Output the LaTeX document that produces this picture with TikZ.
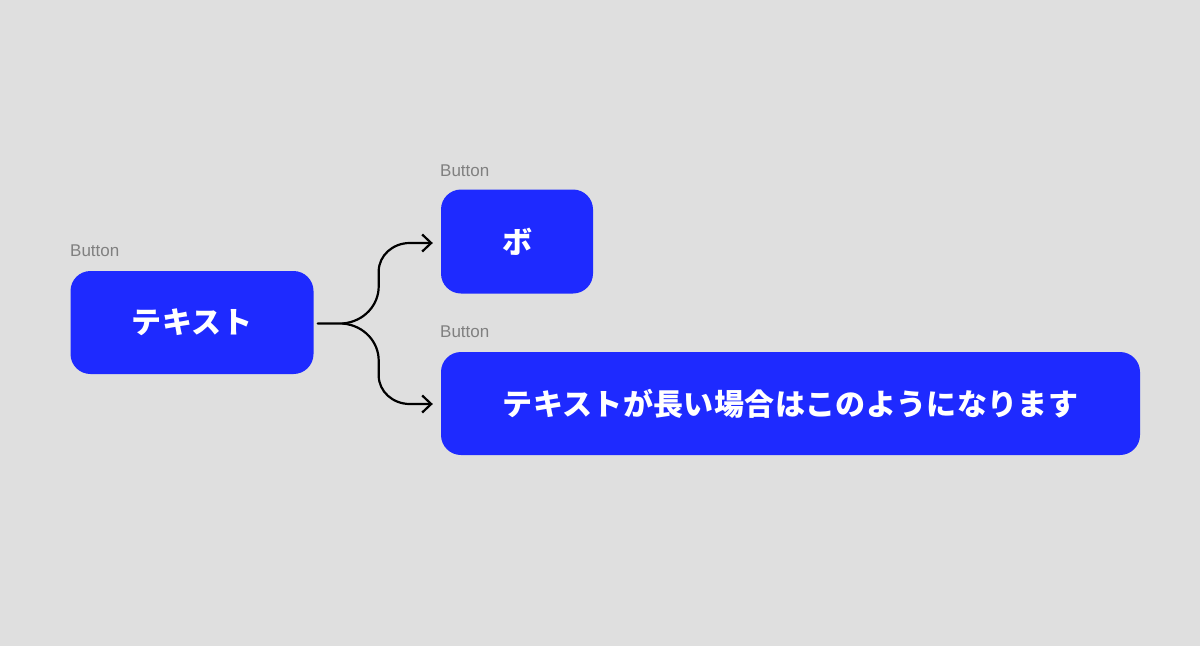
\documentclass[tikz,border=0pt]{standalone}
\usepackage{fontspec}
\setmainfont{Liberation Sans}
\newfontfamily\jp{Noto Sans CJK JP}[LetterSpace=1.2]
\usetikzlibrary{arrows.meta,calc}
\definecolor{bg}{RGB}{223,223,223}
\definecolor{btnblue}{RGB}{30,42,255}
\definecolor{lblgray}{RGB}{128,128,128}
\tikzset{
  btn/.style={fill=btnblue, rounded corners=20pt, inner sep=0pt, text=white,
    font=\jp\bfseries\fontsize{30}{36}\selectfont},
  lbl/.style={anchor=base west, inner sep=0pt, text=lblgray,
    font=\fontsize{17}{20}\selectfont},
  conn/.style={draw=black, line width=2.2pt, line join=round, line cap=round,
    -{Straight Barb[length=9pt,width=17pt,line width=2.2pt]}}
}
\begin{document}
\begin{tikzpicture}[x=1pt,y=-1pt]
\fill[bg] (0,0) rectangle (1200,646);
\useasboundingbox (0,0) rectangle (1200,646);

\node[btn, minimum width=243pt, minimum height=103pt] (b1) at (192,322.5) {テキスト};
\node[btn, minimum width=152pt, minimum height=104pt] (b2) at (517,241.5) {ボ};
\node[btn, minimum width=699pt, minimum height=103pt] (b3) at (790.5,403.5) {テキストが長い場合はこのようになります};

\node[lbl] (l1) at (70,256) {Button};
\node[lbl] (l2) at (440,176) {Button};
\node[lbl] (l3) at (440,337) {Button};

\coordinate (s) at ($(b1.east)+(4,1)$);
\coordinate (j) at ($(b1.east)+(29,1)$);
\coordinate (e2) at ($(b2.west)+(-8,1.5)$);
\coordinate (e3) at ($(b3.west)+(-8,0.5)$);

\draw[conn] (s) -- (j) .. controls ($(j)+(22,-2)$) and ($(j)+(36,-19)$) .. ($(j)+(36,-37)$)
  -- ($(j)+(36,-52)$) .. controls ($(j)+(36,-68)$) and ($(e2)+(-40,0)$) .. ($(e2)+(-23,0)$) -- (e2);
\draw[conn] (j) .. controls ($(j)+(22,2)$) and ($(j)+(36,19)$) .. ($(j)+(36,37)$)
  -- ($(j)+(36,52)$) .. controls ($(j)+(36,68)$) and ($(e3)+(-40,0)$) .. ($(e3)+(-23,0)$) -- (e3);
\end{tikzpicture}
\end{document}
